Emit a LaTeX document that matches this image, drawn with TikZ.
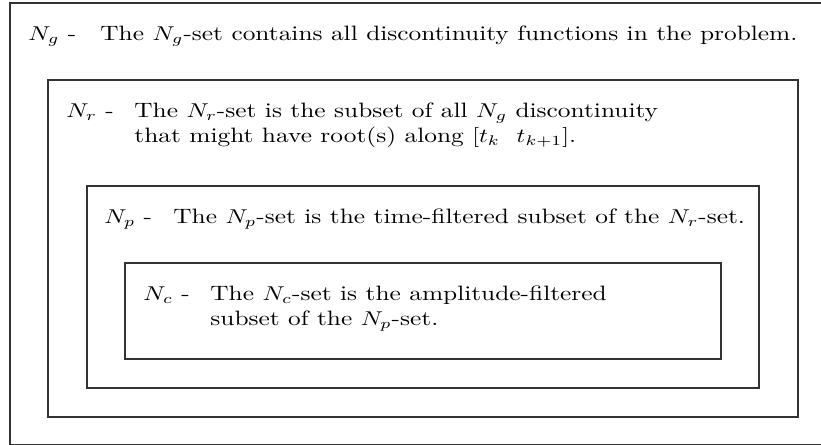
\documentclass[tikz,border=0pt]{standalone}
\newcommand{\setdesc}[1]{\scalebox{1.22}[1]{\begin{tabular}[t]{@{}l@{}}#1\end{tabular}}}
\begin{document}
\begin{tikzpicture}[
  x=0.5pt, y=-0.5pt,
  setbox/.style={draw=black!80, line width=0.8pt, rectangle, inner sep=0pt, anchor=north west},
  setlabel/.style={anchor=base west, inner sep=0pt},
  settext/.style={anchor=base west, inner sep=0pt},
  every node/.append style={font=\fontsize{10.4}{12.5}\selectfont}
]
\useasboundingbox (0,0) rectangle (821,445);
% nested sets
\node[setbox, minimum width=406pt, minimum height=221pt] (gset) at (9,2) {};
\node[setbox, minimum width=375pt, minimum height=168.5pt] (rset) at (47,79) {};
\node[setbox, minimum width=336pt, minimum height=101pt] (pset) at (86,185) {};
\node[setbox, minimum width=298pt, minimum height=48pt] (cset) at (124,262) {};
% labels and descriptions
\node[setlabel] (glabel) at (28,40) {\setdesc{$N_g$ -}};
\node[settext] (gtext) at (100,40) {\setdesc{The $N_g$-set contains all discontinuity functions in the problem.}};
\node[setlabel] (rlabel) at (66,117) {\setdesc{$N_r$ -}};
\node[settext] (rtext) at (134,117) {\setdesc{The $N_r$-set is the subset of all $N_g$ discontinuity\\that might have root(s) along $[t_k\ \ t_{k+1}]$.}};
\node[setlabel] (plabel) at (104,223) {\setdesc{$N_p$ -}};
\node[settext] (ptext) at (173,223) {\setdesc{The $N_p$-set is the time-filtered subset of the $N_r$-set.}};
\node[setlabel] (clabel) at (143,300) {\setdesc{$N_c$ -}};
\node[settext] (ctext) at (210,300) {\setdesc{The $N_c$-set is the amplitude-filtered\\subset of the $N_p$-set.}};
\end{tikzpicture}
\end{document}
